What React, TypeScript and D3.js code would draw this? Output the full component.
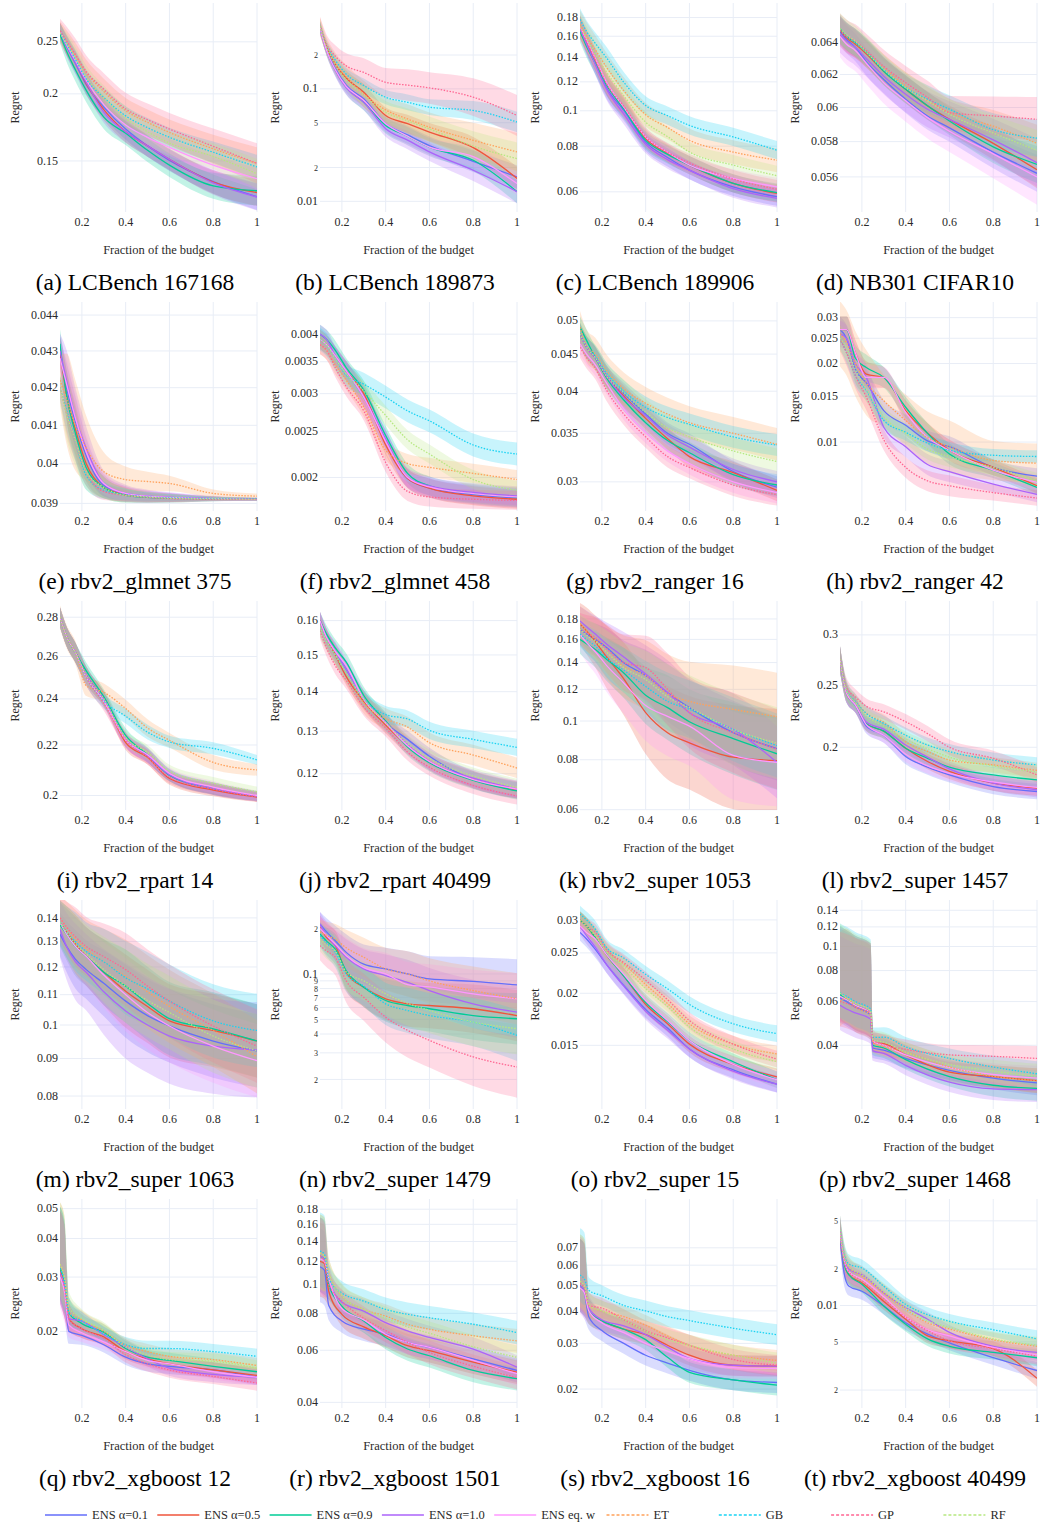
import React from 'react'
import * as d3 from 'd3'

// series meta
const seriesNames = ['ENS α=0.1', 'ENS α=0.5', 'ENS α=0.9', 'ENS α=1.0', 'ENS eq. w', 'ET', 'GB', 'GP', 'RF']
const seriesColors = ['#636EFA', '#EF553B', '#00CC96', '#AB63FA', '#FF97FF', '#FFA15A', '#19D3F3', '#FF6692', '#B6E880']
const seriesDotted = [false, false, false, false, false, true, true, true, true]

// budget fractions where values were read
const gridA = [0.1, 0.13, 0.17, 0.22, 0.3, 0.4, 0.5, 0.6, 0.8, 1.0]
const gridB = [0.1, 0.12, 0.14, 0.2, 0.3, 0.4, 0.5, 0.6, 0.8, 1.0]
const gridP = [0.1, 0.13, 0.17, 0.24, 0.25, 0.3, 0.4, 0.6, 0.8, 1.0]
const xTickVals = [0.2, 0.4, 0.6, 0.8, 1]

const titles = [
  '(a) LCBench 167168', '(b) LCBench 189873', '(c) LCBench 189906', '(d) NB301 CIFAR10',
  '(e) rbv2_glmnet 375', '(f) rbv2_glmnet 458', '(g) rbv2_ranger 16', '(h) rbv2_ranger 42',
  '(i) rbv2_rpart 14', '(j) rbv2_rpart 40499', '(k) rbv2_super 1053', '(l) rbv2_super 1457',
  '(m) rbv2_super 1063', '(n) rbv2_super 1479', '(o) rbv2_super 15', '(p) rbv2_super 1468',
  '(q) rbv2_xgboost 12', '(r) rbv2_xgboost 1501', '(s) rbv2_xgboost 16', '(t) rbv2_xgboost 40499',
]

const xGrids = [
  gridA, gridA, gridA, gridA, gridA, gridA, gridA, gridA, gridA, gridA,
  gridA, gridA, gridA, gridA, gridA, gridP, gridB, gridB, gridB, gridB,
]

const yDomains = [
  [0.1205, 0.2953], [0.00804, 0.58], [0.05283, 0.1973], [0.05408, 0.06657],
  [0.03881, 0.04437], [0.0017005, 0.004673], [0.02735, 0.05309], [0.00544, 0.03444],
  [0.1946, 0.2887], [0.1121, 0.166], [0.0599, 0.1996], [0.1595, 0.339],
  [0.07681, 0.1481], [0.01274, 0.309], [0.01055, 0.03349], [0.02214, 0.154],
  [0.01129, 0.05373], [0.03828, 0.1949], [0.01691, 0.1079], [0.001422, 0.0758],
]

const yTicks = [
  [[0.15, '0.15'], [0.2, '0.2'], [0.25, '0.25']],
  [[0.01, '0.01'], [0.02, '2'], [0.05, '5'], [0.1, '0.1'], [0.2, '2']],
  [[0.06, '0.06'], [0.08, '0.08'], [0.1, '0.1'], [0.12, '0.12'], [0.14, '0.14'], [0.16, '0.16'], [0.18, '0.18']],
  [[0.056, '0.056'], [0.058, '0.058'], [0.06, '0.06'], [0.062, '0.062'], [0.064, '0.064']],
  [[0.039, '0.039'], [0.04, '0.04'], [0.041, '0.041'], [0.042, '0.042'], [0.043, '0.043'], [0.044, '0.044']],
  [[0.002, '0.002'], [0.0025, '0.0025'], [0.003, '0.003'], [0.0035, '0.0035'], [0.004, '0.004']],
  [[0.03, '0.03'], [0.035, '0.035'], [0.04, '0.04'], [0.045, '0.045'], [0.05, '0.05']],
  [[0.01, '0.01'], [0.015, '0.015'], [0.02, '0.02'], [0.025, '0.025'], [0.03, '0.03']],
  [[0.2, '0.2'], [0.22, '0.22'], [0.24, '0.24'], [0.26, '0.26'], [0.28, '0.28']],
  [[0.12, '0.12'], [0.13, '0.13'], [0.14, '0.14'], [0.15, '0.15'], [0.16, '0.16']],
  [[0.06, '0.06'], [0.08, '0.08'], [0.1, '0.1'], [0.12, '0.12'], [0.14, '0.14'], [0.16, '0.16'], [0.18, '0.18']],
  [[0.2, '0.2'], [0.25, '0.25'], [0.3, '0.3']],
  [[0.08, '0.08'], [0.09, '0.09'], [0.1, '0.1'], [0.11, '0.11'], [0.12, '0.12'], [0.13, '0.13'], [0.14, '0.14']],
  [[0.02, '2'], [0.03, '3'], [0.04, '4'], [0.05, '5'], [0.06, '6'], [0.07, '7'], [0.08, '8'], [0.09, '9'], [0.1, '0.1'], [0.2, '2']],
  [[0.015, '0.015'], [0.02, '0.02'], [0.025, '0.025'], [0.03, '0.03']],
  [[0.04, '0.04'], [0.06, '0.06'], [0.08, '0.08'], [0.1, '0.1'], [0.12, '0.12'], [0.14, '0.14']],
  [[0.02, '0.02'], [0.03, '0.03'], [0.04, '0.04'], [0.05, '0.05']],
  [[0.04, '0.04'], [0.06, '0.06'], [0.08, '0.08'], [0.1, '0.1'], [0.12, '0.12'], [0.14, '0.14'], [0.16, '0.16'], [0.18, '0.18']],
  [[0.02, '0.02'], [0.03, '0.03'], [0.04, '0.04'], [0.05, '0.05'], [0.06, '0.06'], [0.07, '0.07']],
  [[0.002, '2'], [0.005, '5'], [0.01, '0.01'], [0.02, '2'], [0.05, '5']],
]

// mean regret per series (rows follow seriesNames)
const regretA = [
  [0.262, 0.245, 0.228, 0.208, 0.189, 0.172, 0.160, 0.1504, 0.1373, 0.1287],
  [0.262, 0.247, 0.230, 0.209, 0.187, 0.170, 0.160, 0.151, 0.137, 0.131],
  [0.258, 0.240, 0.222, 0.203, 0.181, 0.1689, 0.157, 0.1473, 0.1348, 0.132],
  [0.262, 0.246, 0.229, 0.210, 0.185, 0.170, 0.160, 0.151, 0.1365, 0.1285],
  [0.262, 0.247, 0.231, 0.212, 0.191, 0.175, 0.166, 0.159, 0.1473, 0.139],
  [0.262, 0.250, 0.236, 0.219, 0.202, 0.186, 0.177, 0.1695, 0.158, 0.1484],
  [0.262, 0.248, 0.232, 0.213, 0.197, 0.182, 0.173, 0.166, 0.1557, 0.1462],
  [0.262, 0.251, 0.237, 0.220, 0.204, 0.1875, 0.179, 0.172, 0.1597, 0.1484],
  [0.260, 0.248, 0.233, 0.215, 0.197, 0.180, 0.170, 0.162, 0.153, 0.142],
]
const regretB = [
  [0.35, 0.225, 0.152, 0.108, 0.0816, 0.049, 0.039, 0.0313, 0.0227, 0.0165],
  [0.36, 0.235, 0.165, 0.125, 0.0933, 0.058, 0.049, 0.0413, 0.030, 0.016],
  [0.35, 0.22, 0.148, 0.104, 0.076, 0.0473, 0.038, 0.0304, 0.0232, 0.0122],
  [0.35, 0.22, 0.146, 0.102, 0.076, 0.0443, 0.035, 0.0275, 0.0189, 0.0122],
  [0.35, 0.22, 0.148, 0.105, 0.079, 0.049, 0.038, 0.0304, 0.025, 0.0144],
  [0.36, 0.24, 0.17, 0.128, 0.09, 0.065, 0.054, 0.0457, 0.0349, 0.0275],
  [0.36, 0.245, 0.18, 0.135, 0.107, 0.0843, 0.076, 0.0688, 0.0643, 0.0507],
  [0.36, 0.25, 0.195, 0.16, 0.14, 0.1144, 0.108, 0.102, 0.0843, 0.058],
  [0.36, 0.235, 0.165, 0.12, 0.088, 0.062, 0.052, 0.044, 0.031, 0.024],
]
const regretC = [
  [0.170, 0.153, 0.135, 0.116, 0.1002, 0.0821, 0.0745, 0.0688, 0.0619, 0.0582],
  [0.170, 0.155, 0.138, 0.119, 0.1023, 0.0839, 0.0765, 0.0710, 0.0633, 0.0594],
  [0.165, 0.150, 0.135, 0.118, 0.1012, 0.0830, 0.0760, 0.0710, 0.0633, 0.0597],
  [0.168, 0.152, 0.134, 0.115, 0.098, 0.081, 0.0735, 0.0688, 0.0612, 0.0576],
  [0.170, 0.156, 0.139, 0.120, 0.1023, 0.0848, 0.0770, 0.0710, 0.0653, 0.0619],
  [0.172, 0.160, 0.147, 0.132, 0.1136, 0.0975, 0.090, 0.083, 0.0771, 0.0732],
  [0.178, 0.165, 0.153, 0.140, 0.1197, 0.1034, 0.097, 0.0912, 0.0848, 0.078],
  [0.170, 0.155, 0.138, 0.119, 0.103, 0.085, 0.077, 0.072, 0.065, 0.061],
  [0.170, 0.158, 0.143, 0.128, 0.110, 0.0931, 0.085, 0.0771, 0.071, 0.0664],
]
const regretD = [
  [0.0647, 0.0642, 0.0637, 0.0628, 0.0617, 0.0605, 0.0595, 0.0588, 0.0574, 0.0562],
  [0.0648, 0.0643, 0.0639, 0.0633, 0.0622, 0.0611, 0.0601, 0.0593, 0.0579, 0.0564],
  [0.0649, 0.0644, 0.0640, 0.0634, 0.0622, 0.0611, 0.0601, 0.0592, 0.0577, 0.0567],
  [0.0645, 0.0641, 0.0637, 0.0630, 0.0619, 0.0608, 0.0599, 0.0593, 0.0581, 0.0568],
  [0.0644, 0.0639, 0.0635, 0.0627, 0.0615, 0.0604, 0.0594, 0.0586, 0.0573, 0.0560],
  [0.0648, 0.0644, 0.0640, 0.0634, 0.0624, 0.0613, 0.0604, 0.0597, 0.0589, 0.0579],
  [0.0648, 0.0644, 0.0640, 0.0634, 0.0623, 0.0612, 0.0605, 0.0599, 0.0587, 0.0582],
  [0.0648, 0.0644, 0.0641, 0.0635, 0.0625, 0.0615, 0.0606, 0.0597, 0.0595, 0.0593],
  [0.0649, 0.0645, 0.0641, 0.0634, 0.0623, 0.0612, 0.0604, 0.0596, 0.0585, 0.0575],
]
const regretE = [
  [0.0430, 0.0420, 0.0411, 0.0402, 0.03945, 0.03925, 0.03918, 0.03915, 0.03912, 0.0391],
  [0.0430, 0.0418, 0.0409, 0.0400, 0.0394, 0.03922, 0.03916, 0.03914, 0.03912, 0.0391],
  [0.0432, 0.0418, 0.0408, 0.0399, 0.0394, 0.0392, 0.03915, 0.03913, 0.03911, 0.0391],
  [0.0430, 0.0422, 0.0412, 0.0404, 0.0395, 0.03925, 0.03918, 0.03915, 0.03912, 0.0391],
  [0.0428, 0.0421, 0.0412, 0.0403, 0.0395, 0.03925, 0.03918, 0.03915, 0.03912, 0.0391],
  [0.0422, 0.0417, 0.0410, 0.0404, 0.0398, 0.0396, 0.03955, 0.0395, 0.03925, 0.03918],
  [0.0420, 0.0414, 0.0406, 0.0397, 0.03933, 0.03922, 0.03916, 0.03914, 0.03912, 0.03911],
  [0.0420, 0.0413, 0.0406, 0.0398, 0.0393, 0.0392, 0.03915, 0.03912, 0.0391, 0.0391],
  [0.0420, 0.0413, 0.0406, 0.0398, 0.0394, 0.0392, 0.03916, 0.03913, 0.03911, 0.0391],
]
const regretF = [
  [0.0039, 0.0038, 0.0036, 0.00335, 0.00295, 0.0024, 0.00199, 0.0019, 0.00184, 0.00181],
  [0.0039, 0.0038, 0.0036, 0.00335, 0.0030, 0.00234, 0.00199, 0.0019, 0.00183, 0.0018],
  [0.0040, 0.0039, 0.0037, 0.0034, 0.00305, 0.00245, 0.00204, 0.00192, 0.00185, 0.00182],
  [0.0040, 0.0039, 0.0036, 0.00335, 0.00295, 0.0024, 0.0020, 0.00192, 0.00186, 0.00183],
  [0.0039, 0.0038, 0.0036, 0.00335, 0.00295, 0.00238, 0.0020, 0.00191, 0.00185, 0.00182],
  [0.0038, 0.0037, 0.00345, 0.0032, 0.00281, 0.00228, 0.00214, 0.0021, 0.00204, 0.00198],
  [0.0039, 0.0038, 0.00355, 0.00328, 0.00314, 0.00295, 0.00276, 0.00263, 0.00234, 0.00224],
  [0.0038, 0.0037, 0.0034, 0.0031, 0.00276, 0.00215, 0.00187, 0.00182, 0.0018, 0.00179],
  [0.0039, 0.0038, 0.00355, 0.0033, 0.00304, 0.0027, 0.0024, 0.00224, 0.00198, 0.00188],
]
const regretG = [
  [0.048, 0.046, 0.0445, 0.042, 0.0397, 0.0372, 0.035, 0.0338, 0.031, 0.0295],
  [0.048, 0.046, 0.0445, 0.042, 0.0394, 0.0367, 0.0344, 0.0325, 0.0309, 0.0292],
  [0.049, 0.047, 0.0445, 0.0418, 0.0389, 0.0362, 0.0342, 0.0329, 0.0307, 0.0297],
  [0.048, 0.046, 0.0445, 0.042, 0.0392, 0.037, 0.0348, 0.0335, 0.0312, 0.030],
  [0.0465, 0.045, 0.0435, 0.0411, 0.0378, 0.0351, 0.0331, 0.0318, 0.030, 0.029],
  [0.049, 0.0462, 0.045, 0.0427, 0.0403, 0.0385, 0.0372, 0.0362, 0.035, 0.0338],
  [0.048, 0.046, 0.0447, 0.0424, 0.040, 0.038, 0.0368, 0.036, 0.0346, 0.0337],
  [0.046, 0.0445, 0.043, 0.0402, 0.0372, 0.0346, 0.0325, 0.0314, 0.0297, 0.0288],
  [0.048, 0.046, 0.0445, 0.042, 0.0398, 0.0374, 0.0356, 0.0346, 0.0331, 0.032],
]
const regretH = [
  [0.027, 0.025, 0.019, 0.0169, 0.0132, 0.0116, 0.0101, 0.0096, 0.0080, 0.0074],
  [0.027, 0.027, 0.022, 0.0182, 0.0177, 0.0132, 0.0108, 0.0093, 0.0080, 0.0068],
  [0.027, 0.027, 0.021, 0.0193, 0.0177, 0.0136, 0.0108, 0.0090, 0.0078, 0.0067],
  [0.026, 0.025, 0.020, 0.0177, 0.0114, 0.0096, 0.0082, 0.0077, 0.0069, 0.0063],
  [0.027, 0.027, 0.022, 0.0177, 0.0177, 0.013, 0.0104, 0.0093, 0.0078, 0.0070],
  [0.026, 0.024, 0.020, 0.0169, 0.0144, 0.0121, 0.0104, 0.0096, 0.0085, 0.0083],
  [0.025, 0.022, 0.018, 0.0158, 0.0121, 0.0109, 0.0099, 0.0093, 0.0089, 0.0088],
  [0.025, 0.022, 0.018, 0.0149, 0.0102, 0.0080, 0.0071, 0.0068, 0.0064, 0.0061],
  [0.025, 0.023, 0.019, 0.016, 0.0125, 0.0108, 0.0094, 0.0088, 0.0080, 0.0071],
]
const regretI = [
  [0.28, 0.27, 0.262, 0.251, 0.240, 0.2222, 0.2157, 0.2078, 0.2025, 0.1996],
  [0.28, 0.27, 0.262, 0.251, 0.240, 0.221, 0.215, 0.2065, 0.202, 0.1994],
  [0.28, 0.27, 0.262, 0.253, 0.241, 0.224, 0.216, 0.2078, 0.2027, 0.1998],
  [0.28, 0.27, 0.262, 0.251, 0.240, 0.2222, 0.2157, 0.208, 0.2027, 0.1998],
  [0.28, 0.27, 0.262, 0.250, 0.239, 0.222, 0.216, 0.2085, 0.2032, 0.2000],
  [0.28, 0.27, 0.262, 0.246, 0.243, 0.2357, 0.2272, 0.222, 0.2129, 0.2099],
  [0.28, 0.27, 0.262, 0.250, 0.239, 0.2323, 0.2254, 0.2213, 0.2186, 0.2139],
  [0.28, 0.27, 0.262, 0.250, 0.238, 0.222, 0.215, 0.207, 0.2025, 0.1995],
  [0.28, 0.27, 0.262, 0.251, 0.240, 0.223, 0.217, 0.2095, 0.2047, 0.2015],
]
const regretJ = [
  [0.160, 0.155, 0.151, 0.146, 0.1381, 0.132, 0.128, 0.124, 0.1187, 0.1164],
  [0.160, 0.155, 0.150, 0.144, 0.1375, 0.1315, 0.1265, 0.1228, 0.1187, 0.1164],
  [0.160, 0.156, 0.152, 0.148, 0.139, 0.1325, 0.1262, 0.1225, 0.1185, 0.1162],
  [0.160, 0.155, 0.151, 0.146, 0.138, 0.1322, 0.1268, 0.1228, 0.119, 0.1166],
  [0.160, 0.155, 0.151, 0.147, 0.138, 0.132, 0.1265, 0.1228, 0.1187, 0.1166],
  [0.158, 0.154, 0.150, 0.145, 0.137, 0.1331, 0.131, 0.1272, 0.1243, 0.1213],
  [0.158, 0.154, 0.150, 0.145, 0.138, 0.1341, 0.133, 0.1302, 0.128, 0.1261],
  [0.157, 0.152, 0.147, 0.143, 0.136, 0.1308, 0.125, 0.1215, 0.1174, 0.1151],
  [0.158, 0.154, 0.150, 0.145, 0.138, 0.132, 0.127, 0.1235, 0.1195, 0.117],
]
const regretK = [
  [0.170, 0.165, 0.160, 0.153, 0.1398, 0.130, 0.1177, 0.108, 0.0935, 0.0853],
  [0.175, 0.168, 0.158, 0.145, 0.1275, 0.105, 0.0935, 0.0882, 0.0812, 0.0796],
  [0.160, 0.156, 0.151, 0.143, 0.1319, 0.116, 0.108, 0.0996, 0.0904, 0.0828],
  [0.178, 0.172, 0.165, 0.156, 0.1445, 0.131, 0.1177, 0.1049, 0.0953, 0.0788],
  [0.165, 0.157, 0.149, 0.138, 0.1245, 0.1093, 0.1027, 0.0971, 0.082, 0.0788],
  [0.175, 0.168, 0.160, 0.149, 0.137, 0.130, 0.117, 0.112, 0.1069, 0.1025],
  [0.165, 0.160, 0.154, 0.144, 0.134, 0.122, 0.112, 0.107, 0.0953, 0.0868],
  [0.170, 0.166, 0.162, 0.152, 0.140, 0.136, 0.120, 0.105, 0.0935, 0.085],
  [0.170, 0.164, 0.158, 0.149, 0.136, 0.127, 0.115, 0.108, 0.0953, 0.088],
]
const regretL = [
  [0.275, 0.243, 0.2328, 0.216, 0.2089, 0.1934, 0.1862, 0.181, 0.1736, 0.1705],
  [0.275, 0.243, 0.233, 0.218, 0.212, 0.1993, 0.190, 0.1833, 0.1758, 0.1726],
  [0.275, 0.243, 0.233, 0.218, 0.212, 0.1993, 0.1922, 0.1862, 0.181, 0.1778],
  [0.275, 0.243, 0.233, 0.219, 0.2135, 0.2016, 0.193, 0.185, 0.1758, 0.1716],
  [0.275, 0.243, 0.233, 0.217, 0.2089, 0.195, 0.187, 0.182, 0.1765, 0.173],
  [0.275, 0.245, 0.236, 0.226, 0.219, 0.204, 0.197, 0.191, 0.1877, 0.184],
  [0.275, 0.246, 0.236, 0.226, 0.218, 0.2089, 0.2016, 0.1969, 0.191, 0.1877],
  [0.275, 0.248, 0.240, 0.232, 0.2273, 0.2193, 0.2101, 0.200, 0.1922, 0.181],
  [0.275, 0.245, 0.235, 0.224, 0.216, 0.206, 0.199, 0.193, 0.187, 0.183],
]
const regretM = [
  [0.133, 0.128, 0.123, 0.119, 0.114, 0.1078, 0.103, 0.0997, 0.0951, 0.0922],
  [0.138, 0.134, 0.129, 0.124, 0.118, 0.1112, 0.106, 0.1013, 0.0983, 0.0951],
  [0.137, 0.133, 0.128, 0.124, 0.118, 0.113, 0.107, 0.102, 0.0988, 0.0951],
  [0.135, 0.128, 0.122, 0.118, 0.111, 0.1045, 0.100, 0.0966, 0.0936, 0.0925],
  [0.138, 0.133, 0.128, 0.124, 0.117, 0.110, 0.104, 0.0997, 0.0936, 0.0894],
  [0.140, 0.136, 0.131, 0.127, 0.122, 0.1165, 0.111, 0.106, 0.0983, 0.0905],
  [0.138, 0.134, 0.130, 0.126, 0.122, 0.116, 0.112, 0.1078, 0.1013, 0.0983],
  [0.140, 0.136, 0.132, 0.128, 0.124, 0.119, 0.113, 0.1078, 0.0997, 0.0936],
  [0.138, 0.134, 0.129, 0.125, 0.119, 0.113, 0.108, 0.104, 0.0966, 0.0922],
]
const regretN = [
  [0.214, 0.19, 0.166, 0.139, 0.116, 0.108, 0.100, 0.0927, 0.0894, 0.0846],
  [0.203, 0.175, 0.154, 0.102, 0.0816, 0.0684, 0.0634, 0.0618, 0.0588, 0.053],
  [0.184, 0.165, 0.146, 0.105, 0.0816, 0.0667, 0.0618, 0.0588, 0.053, 0.0505],
  [0.214, 0.18, 0.154, 0.129, 0.108, 0.0975, 0.088, 0.0776, 0.0634, 0.0558],
  [0.20, 0.18, 0.158, 0.132, 0.110, 0.100, 0.085, 0.082, 0.0738, 0.0684],
  [0.19, 0.18, 0.170, 0.149, 0.129, 0.108, 0.100, 0.090, 0.0776, 0.0684],
  [0.18, 0.16, 0.139, 0.100, 0.083, 0.0634, 0.0573, 0.053, 0.048, 0.0392],
  [0.154, 0.142, 0.129, 0.090, 0.070, 0.0517, 0.0423, 0.0363, 0.0282, 0.0242],
  [0.17, 0.155, 0.142, 0.103, 0.09, 0.0738, 0.064, 0.0573, 0.048, 0.0434],
]
const regretO = [
  [0.028, 0.027, 0.0255, 0.0235, 0.0209, 0.0183, 0.0165, 0.0147, 0.0131, 0.0121],
  [0.030, 0.029, 0.0272, 0.0248, 0.022, 0.0188, 0.0169, 0.0151, 0.0135, 0.0126],
  [0.030, 0.029, 0.0272, 0.0248, 0.022, 0.019, 0.0171, 0.0154, 0.0137, 0.0124],
  [0.029, 0.0275, 0.0258, 0.0235, 0.0208, 0.0181, 0.0163, 0.0147, 0.013, 0.0121],
  [0.029, 0.028, 0.027, 0.0248, 0.0222, 0.0192, 0.0172, 0.0154, 0.0135, 0.0124],
  [0.030, 0.029, 0.0275, 0.0253, 0.0235, 0.021, 0.0189, 0.0169, 0.0151, 0.0143],
  [0.031, 0.030, 0.0285, 0.0258, 0.0243, 0.0222, 0.0205, 0.0188, 0.0169, 0.016],
  [0.030, 0.029, 0.028, 0.0255, 0.0237, 0.0215, 0.0193, 0.0172, 0.0151, 0.0139],
  [0.030, 0.029, 0.0275, 0.0252, 0.0232, 0.0205, 0.0186, 0.0166, 0.0147, 0.0137],
]
const regretP = [
  [0.062, 0.060, 0.057, 0.053, 0.039, 0.0382, 0.0354, 0.0317, 0.0295, 0.0282],
  [0.063, 0.061, 0.058, 0.054, 0.041, 0.0406, 0.0366, 0.0312, 0.0299, 0.0288],
  [0.064, 0.061, 0.058, 0.054, 0.040, 0.039, 0.035, 0.0299, 0.0276, 0.0268],
  [0.058, 0.056, 0.054, 0.051, 0.038, 0.0371, 0.0332, 0.0284, 0.0267, 0.0265],
  [0.063, 0.061, 0.058, 0.054, 0.0415, 0.040, 0.0366, 0.0325, 0.0305, 0.0295],
  [0.060, 0.062, 0.057, 0.053, 0.041, 0.0395, 0.0375, 0.0327, 0.030, 0.0288],
  [0.065, 0.063, 0.060, 0.056, 0.043, 0.0431, 0.0394, 0.0354, 0.0327, 0.0307],
  [0.060, 0.059, 0.057, 0.054, 0.042, 0.0402, 0.0385, 0.0366, 0.0361, 0.0354],
  [0.065, 0.062, 0.059, 0.055, 0.042, 0.0412, 0.0375, 0.0335, 0.0315, 0.030],
]
const regretQ = [
  [0.031, 0.028, 0.020, 0.0194, 0.0181, 0.0165, 0.0157, 0.0154, 0.015, 0.0142],
  [0.032, 0.028, 0.022, 0.0204, 0.0192, 0.0172, 0.0163, 0.0157, 0.015, 0.0144],
  [0.032, 0.029, 0.023, 0.0212, 0.0199, 0.0176, 0.0165, 0.0161, 0.0154, 0.0148],
  [0.031, 0.028, 0.022, 0.0216, 0.0195, 0.0178, 0.0163, 0.0152, 0.0145, 0.0142],
  [0.030, 0.027, 0.021, 0.0198, 0.0185, 0.0172, 0.0161, 0.0157, 0.0148, 0.0142],
  [0.033, 0.030, 0.023, 0.0218, 0.020, 0.018, 0.0172, 0.0166, 0.0162, 0.0155],
  [0.032, 0.029, 0.023, 0.0216, 0.0196, 0.0181, 0.0176, 0.0176, 0.0172, 0.0166],
  [0.031, 0.028, 0.022, 0.0204, 0.019, 0.0168, 0.0157, 0.015, 0.0143, 0.0136],
  [0.033, 0.030, 0.024, 0.022, 0.0202, 0.0178, 0.0168, 0.0162, 0.016, 0.0152],
]
const regretR = [
  [0.115, 0.112, 0.085, 0.0754, 0.0707, 0.068, 0.0638, 0.0614, 0.0561, 0.0513],
  [0.120, 0.118, 0.095, 0.0794, 0.072, 0.0672, 0.0622, 0.0598, 0.0547, 0.0506],
  [0.125, 0.122, 0.100, 0.0846, 0.0754, 0.0663, 0.0606, 0.0575, 0.0513, 0.0481],
  [0.125, 0.122, 0.105, 0.0873, 0.0814, 0.0744, 0.0698, 0.0663, 0.0606, 0.0526],
  [0.122, 0.120, 0.105, 0.083, 0.076, 0.068, 0.0638, 0.0614, 0.0555, 0.050],
  [0.128, 0.125, 0.110, 0.0914, 0.0825, 0.0783, 0.0735, 0.0707, 0.0672, 0.0646],
  [0.130, 0.127, 0.105, 0.0937, 0.088, 0.0825, 0.0794, 0.0773, 0.0735, 0.0689],
  [0.125, 0.120, 0.100, 0.088, 0.077, 0.070, 0.0638, 0.059, 0.053, 0.0485],
  [0.128, 0.125, 0.110, 0.092, 0.0825, 0.077, 0.072, 0.0685, 0.0617, 0.0568],
]
const regretS = [
  [0.050, 0.047, 0.038, 0.0336, 0.030, 0.027, 0.0252, 0.0236, 0.0217, 0.0212],
  [0.050, 0.048, 0.040, 0.0367, 0.034, 0.0324, 0.0295, 0.027, 0.0247, 0.0245],
  [0.050, 0.048, 0.040, 0.0367, 0.034, 0.031, 0.0265, 0.0232, 0.0217, 0.0207],
  [0.050, 0.048, 0.041, 0.037, 0.035, 0.0324, 0.029, 0.0262, 0.0247, 0.0245],
  [0.049, 0.047, 0.040, 0.036, 0.033, 0.030, 0.028, 0.0262, 0.0242, 0.024],
  [0.052, 0.050, 0.042, 0.040, 0.038, 0.0352, 0.032, 0.0295, 0.027, 0.0258],
  [0.055, 0.053, 0.048, 0.0458, 0.042, 0.040, 0.038, 0.0367, 0.0343, 0.0324],
  [0.051, 0.049, 0.042, 0.041, 0.037, 0.0335, 0.0315, 0.0295, 0.026, 0.0247],
  [0.052, 0.050, 0.042, 0.040, 0.037, 0.0335, 0.031, 0.0295, 0.027, 0.0252],
]
const regretT = [
  [0.038, 0.018, 0.0145, 0.0131, 0.0099, 0.0072, 0.0058, 0.0049, 0.0037, 0.0029],
  [0.040, 0.022, 0.018, 0.0154, 0.0108, 0.0077, 0.0056, 0.0051, 0.0044, 0.0025],
  [0.040, 0.022, 0.018, 0.015, 0.0099, 0.007, 0.0053, 0.0046, 0.0041, 0.0037],
  [0.042, 0.024, 0.020, 0.018, 0.0127, 0.0096, 0.0077, 0.006, 0.0046, 0.0041],
  [0.040, 0.023, 0.019, 0.0165, 0.0118, 0.008, 0.0063, 0.0056, 0.0045, 0.0039],
  [0.042, 0.025, 0.021, 0.0175, 0.0127, 0.0093, 0.0072, 0.0064, 0.0052, 0.0046],
  [0.042, 0.026, 0.022, 0.0204, 0.0144, 0.0102, 0.0084, 0.0074, 0.0063, 0.0053],
  [0.040, 0.023, 0.019, 0.016, 0.0113, 0.008, 0.0062, 0.0051, 0.0044, 0.0038],
  [0.042, 0.025, 0.021, 0.018, 0.013, 0.0096, 0.0075, 0.0066, 0.0053, 0.0047],
]

const regrets = [
  regretA, regretB, regretC, regretD, regretE, regretF, regretG, regretH, regretI, regretJ,
  regretK, regretL, regretM, regretN, regretO, regretP, regretQ, regretR, regretS, regretT,
]

// spread of the shaded bands, in log10 units (upper side), per panel and grid point
const bandUp = [
  [0.015, 0.018, 0.02, 0.02, 0.02, 0.02, 0.02, 0.02, 0.022, 0.025],
  [0.06, 0.06, 0.07, 0.08, 0.09, 0.09, 0.1, 0.1, 0.12, 0.13],
  [0.03, 0.03, 0.03, 0.03, 0.028, 0.025, 0.025, 0.025, 0.025, 0.025],
  [0.006, 0.006, 0.006, 0.006, 0.006, 0.006, 0.006, 0.006, 0.007, 0.008],
  [0.004, 0.007, 0.007, 0.005, 0.003, 0.002, 0.0015, 0.0012, 0.0006, 0.0004],
  [0.02, 0.02, 0.02, 0.02, 0.02, 0.02, 0.02, 0.02, 0.02, 0.02],
  [0.015, 0.015, 0.015, 0.015, 0.015, 0.015, 0.015, 0.015, 0.015, 0.015],
  [0.05, 0.05, 0.05, 0.05, 0.04, 0.04, 0.04, 0.04, 0.03, 0.03],
  [0.008, 0.008, 0.008, 0.007, 0.006, 0.006, 0.006, 0.005, 0.005, 0.004],
  [0.007, 0.007, 0.007, 0.007, 0.007, 0.007, 0.007, 0.007, 0.007, 0.007],
  [0.04, 0.045, 0.05, 0.06, 0.07, 0.08, 0.09, 0.09, 0.1, 0.1],
  [0.02, 0.015, 0.012, 0.012, 0.012, 0.012, 0.012, 0.012, 0.012, 0.012],
  [0.03, 0.035, 0.04, 0.04, 0.045, 0.05, 0.05, 0.05, 0.05, 0.05],
  [0.08, 0.09, 0.1, 0.12, 0.13, 0.14, 0.15, 0.15, 0.16, 0.17],
  [0.02, 0.02, 0.02, 0.02, 0.02, 0.02, 0.02, 0.02, 0.02, 0.02],
  [0.28, 0.28, 0.28, 0.28, 0.04, 0.04, 0.04, 0.04, 0.045, 0.05],
  [0.2, 0.2, 0.05, 0.03, 0.025, 0.025, 0.025, 0.025, 0.025, 0.025],
  [0.13, 0.13, 0.05, 0.04, 0.04, 0.04, 0.04, 0.04, 0.04, 0.04],
  [0.18, 0.18, 0.05, 0.04, 0.04, 0.04, 0.04, 0.04, 0.04, 0.04],
  [0.12, 0.1, 0.08, 0.07, 0.07, 0.06, 0.06, 0.06, 0.06, 0.07],
]
// lower side, where it differs from the upper side
const bandDn = [
  null, null, null, null, null, null, null, null, null, null,
  null, null, null, null, null,
  [0.1, 0.1, 0.1, 0.1, 0.04, 0.04, 0.04, 0.04, 0.045, 0.05],
  [0.1, 0.1, 0.04, 0.03, 0.025, 0.025, 0.025, 0.025, 0.025, 0.025],
  [0.12, 0.12, 0.05, 0.04, 0.04, 0.04, 0.04, 0.04, 0.04, 0.04],
  [0.1, 0.1, 0.05, 0.04, 0.04, 0.04, 0.04, 0.04, 0.04, 0.04],
  null,
]
// relative band width per series
const bandMult = [
  [1, 1, 1.1, 1, 0.8, 1.2, 0.9, 1.5, 1.1],
  [0.8, 0.8, 0.8, 0.8, 0.8, 1.3, 0.7, 1.4, 1.1],
  [1, 1, 1, 1, 1, 1.3, 1, 1, 1.1],
  [1, 1, 1, 1.3, 1.5, 1, 1, 1.2, 1.1],
  [1, 1, 1, 1.2, 1, 1.8, 0.8, 0.8, 1],
  [1, 1, 1, 1, 1, 1, 1.2, 1, 1],
  [1, 1, 1, 1, 1, 1.5, 1, 1, 1.2],
  [1, 1, 1, 1, 1, 2.5, 0.8, 1, 1],
  [1, 1, 1, 1, 1, 1.2, 1, 1, 1],
  [1, 1, 1, 1, 1, 1.2, 1, 1, 1],
  [0.8, 1.3, 0.9, 0.9, 1.1, 1.1, 0.8, 1, 0.9],
  [1, 1, 1, 1, 1, 1, 1, 1, 1],
  [1, 1, 1, 1.3, 1, 1, 1, 1, 1],
  [1, 1, 1, 1, 1, 1, 1, 1.2, 1],
  [1, 1, 1, 1, 1, 1, 1, 1, 1],
  [1, 1, 1, 1, 1, 1, 1, 1, 1],
  [1, 1, 1, 1, 1, 1, 1, 1, 1],
  [1, 1, 1, 1, 1, 1, 1, 1, 1],
  [1, 1, 1, 1, 1, 1, 1, 1, 1],
  [1, 1, 1, 1, 1, 1, 1, 1, 1],
]

const FONT = '"Liberation Serif", "Times New Roman", serif'
const TEXT = '#2a2a2a'
const GRID = '#E8EDF6'
const colW = 260
const rowH = 299
const plot = { left: 60, right: 257, top: 3, bottom: 212 }

const Panel = ({ p }: { p: number }) => {
  const ox = (p % 4) * colW
  const oy = Math.floor(p / 4) * rowH
  const x = d3.scaleLinear().domain([0.1, 1]).range([ox + plot.left, ox + plot.right])
  const y = d3.scaleLog().domain(yDomains[p]).range([oy + plot.bottom, oy + plot.top])
  const xs = xGrids[p]
  const up = bandUp[p]
  const dn = bandDn[p] || bandUp[p]
  const clipId = `clip-${p}`

  const line = d3
    .line<[number, number]>()
    .x((d) => x(d[0]))
    .y((d) => y(d[1]))
    .curve(d3.curveMonotoneX)

  const area = d3
    .area<[number, number, number]>()
    .x((d) => x(d[0]))
    .y0((d) => y(d[1]))
    .y1((d) => y(d[2]))
    .curve(d3.curveMonotoneX)

  const series = regrets[p]

  return (
    <g>
      <clipPath id={clipId}>
        <rect x={ox + plot.left} y={oy + plot.top} width={plot.right - plot.left} height={plot.bottom - plot.top} />
      </clipPath>

      {/* grid */}
      {yTicks[p].map(([v]) => (
        <line key={`gy${v}`} x1={ox + plot.left} x2={ox + plot.right} y1={y(v as number)} y2={y(v as number)} stroke={GRID} strokeWidth={1} />
      ))}
      {xTickVals.map((v) => (
        <line key={`gx${v}`} x1={x(v)} x2={x(v)} y1={oy + plot.top} y2={oy + plot.bottom} stroke={GRID} strokeWidth={1} />
      ))}

      <g clipPath={`url(#${clipId})`}>
        {series.map((vals, s) => {
          const m = bandMult[p][s]
          const pts = xs.map((xv, k) => [
            xv,
            vals[k] * Math.pow(10, -dn[k] * m),
            vals[k] * Math.pow(10, up[k] * m),
          ]) as [number, number, number][]
          return <path key={`b${s}`} d={area(pts) || ''} fill={seriesColors[s]} fillOpacity={0.24} stroke="none" />
        })}
        {series.map((vals, s) => {
          const pts = xs.map((xv, k) => [xv, vals[k]]) as [number, number][]
          return (
            <path
              key={`l${s}`}
              d={line(pts) || ''}
              fill="none"
              stroke={seriesColors[s]}
              strokeWidth={1.3}
              strokeDasharray={seriesDotted[s] ? '1.5,1.5' : undefined}
            />
          )
        })}
      </g>

      {/* y tick labels */}
      {yTicks[p].map(([v, label]) => {
        const minor = (label as string).length === 1
        return (
          <text
            key={`ty${v}`}
            x={ox + plot.left - 2}
            y={y(v as number)}
            dy={minor ? '0.4em' : '0.3em'}
            textAnchor="end"
            fontSize={minor ? 8 : 12}
            fill={TEXT}
          >
            {label}
          </text>
        )
      })}
      {/* x tick labels */}
      {xTickVals.map((v) => (
        <text key={`tx${v}`} x={x(v)} y={oy + 226} textAnchor="middle" fontSize={12} fill={TEXT}>
          {d3.format('~g')(v)}
        </text>
      ))}

      <text
        transform={`translate(${ox + 19},${oy + (plot.top + plot.bottom) / 2}) rotate(-90)`}
        textAnchor="middle"
        fontSize={12}
        fill={TEXT}
      >
        Regret
      </text>
      <text x={(x(0.1) + x(1)) / 2} y={oy + 254} textAnchor="middle" fontSize={12.5} fill={TEXT}>
        Fraction of the budget
      </text>
      <text x={ox + 135} y={oy + 290} textAnchor="middle" fontSize={23.5} fill="#000">
        {titles[p]}
      </text>
    </g>
  )
}

const Legend = () => {
  const step = 112.3
  return (
    <g>
      {seriesNames.map((name, s) => {
        const lx = 45 + s * step
        return (
          <g key={name}>
            <line
              x1={lx}
              x2={lx + 42}
              y1={1515}
              y2={1515}
              stroke={seriesColors[s]}
              strokeWidth={1.5}
              strokeDasharray={seriesDotted[s] ? '3,2' : undefined}
            />
            <text x={lx + 47} y={1519} fontSize={12.5} fill={TEXT}>
              {name}
            </text>
          </g>
        )
      })}
    </g>
  )
}

export default function App() {
  return (
    <div style={{ position: 'absolute', left: 0, top: 0 }}>
      <svg width={1041} height={1526} style={{ display: 'block', background: '#fff', fontFamily: FONT }}>
        {titles.map((_, p) => (
          <Panel key={p} p={p} />
        ))}
        <Legend />
      </svg>
    </div>
  )
}
